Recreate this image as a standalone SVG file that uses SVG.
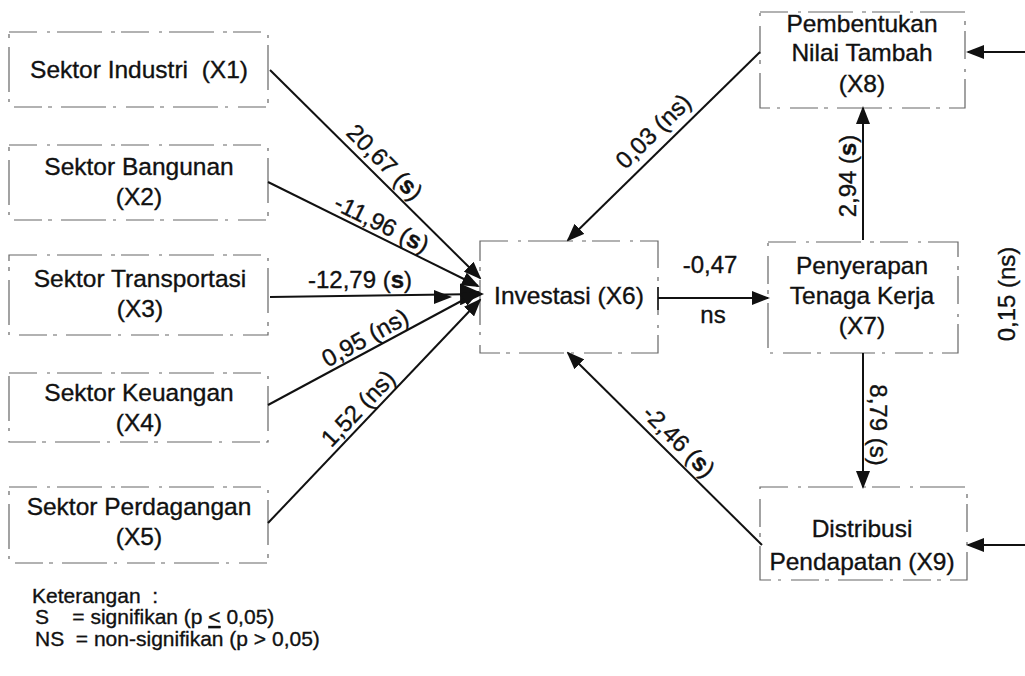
<svg xmlns="http://www.w3.org/2000/svg" width="1025" height="676" viewBox="0 0 1025 676">
<defs>
<style>
text{font-family:"Liberation Sans",Arial,sans-serif;fill:#111;stroke:#111;stroke-width:0.35}
.n{font-size:24.5px;text-anchor:middle}
.l{font-size:24px;text-anchor:middle}
.k{font-size:21px}
.box{fill:none;stroke:#666;stroke-width:1.2;stroke-dasharray:28 10 3 7 45 9 4 6}
.c{stroke:#111;stroke-width:2;fill:none;marker-end:url(#ah)}
</style>
<marker id="ah" markerWidth="18" markerHeight="14" refX="16" refY="7" orient="auto" markerUnits="userSpaceOnUse">
<path d="M0,0 L18,7 L0,14 Z" fill="#111"/>
</marker>
<marker id="ahb" markerWidth="24" markerHeight="22" refX="22" refY="11" orient="auto" markerUnits="userSpaceOnUse">
<path d="M0,0 L24,11 L0,22 Z" fill="#111"/>
</marker>
</defs>
<rect width="1025" height="676" fill="#fff"/>

<g id="x1"><rect class="box" x="9" y="32" width="259" height="75"/><text class="n" x="139" y="78" xml:space="preserve">Sektor Industri  (X1)</text></g>
<g id="x2"><rect class="box" x="9" y="145" width="259" height="75"/><text class="n" x="139" y="175">Sektor Bangunan</text><text class="n" x="139" y="205">(X2)</text></g>
<g id="x3"><rect class="box" x="9" y="255" width="259" height="80"/><text class="n" x="140" y="287">Sektor Transportasi</text><text class="n" x="140" y="317">(X3)</text></g>
<g id="x4"><rect class="box" x="9" y="373" width="259" height="69"/><text class="n" x="139" y="401">Sektor Keuangan</text><text class="n" x="139" y="431">(X4)</text></g>
<g id="x5"><rect class="box" x="9" y="487" width="259" height="76"/><text class="n" x="139" y="515">Sektor Perdagangan</text><text class="n" x="139" y="545">(X5)</text></g>
<g id="x6"><rect class="box" x="480" y="241" width="178" height="112"/><text class="n" x="569" y="304">Investasi (X6)</text></g>
<g id="x7"><rect class="box" x="768" y="242" width="190" height="111"/><text class="n" x="862" y="274">Penyerapan</text><text class="n" x="862" y="304">Tenaga Kerja</text><text class="n" x="862" y="334">(X7)</text></g>
<g id="x8"><rect class="box" x="760" y="12" width="205" height="96"/><text class="n" x="862" y="32">Pembentukan</text><text class="n" x="862" y="61">Nilai Tambah</text><text class="n" x="862" y="92">(X8)</text></g>
<g id="x9"><rect class="box" x="760" y="487" width="207" height="93"/><text class="n" x="862" y="537">Distribusi</text><text class="n" x="862" y="570">Pendapatan (X9)</text></g>

<g id="connectors">
<line class="c" x1="270" y1="70" x2="480" y2="278"/>
<line class="c" x1="268" y1="182" x2="478" y2="286"/>
<line class="c" x1="270" y1="297" x2="482" y2="294" style="marker-end:url(#ahb)"/>
<path d="M428,297 L450,297" stroke="none" marker-end="url(#ah)"/>
<line class="c" x1="268" y1="405" x2="478" y2="292"/>
<line class="c" x1="268" y1="523" x2="480" y2="300"/>
<line class="c" x1="760" y1="52" x2="568" y2="240"/>
<line class="c" x1="762" y1="545" x2="568" y2="353"/>
<line class="c" x1="658" y1="298" x2="768" y2="298"/>
<line x1="658" y1="287" x2="658" y2="310" stroke="#111" stroke-width="1.5"/>
<line class="c" x1="863" y1="240" x2="863" y2="108"/>
<line class="c" x1="863" y1="353" x2="863" y2="487"/>
<line class="c" x1="1025" y1="52" x2="968" y2="52"/>
<line class="c" x1="1025" y1="545" x2="968" y2="545"/>

<text class="l" transform="translate(379,168) rotate(45)">20,67 (<tspan font-weight="bold">s</tspan>)</text>
<text class="l" transform="translate(378,231) rotate(26.3)">-11,96 (<tspan font-weight="bold">s</tspan>)</text>
<text class="l" x="360" y="288">-12,79 (<tspan font-weight="bold">s</tspan>)</text>
<text class="l" transform="translate(369,345) rotate(-28.7)">0,95 (ns)</text>
<text class="l" transform="translate(364,414) rotate(-46.4)">1,52 (ns)</text>
<text class="l" transform="translate(659,137) rotate(-44.4)">0,03 (ns)</text>
<text class="l" transform="translate(673,447) rotate(45)">-2,46 (<tspan font-weight="bold">s</tspan>)</text>
<text class="l" x="710" y="273">-0,47</text>
<text class="l" x="713" y="323">ns</text>
<text class="l" transform="translate(856,176) rotate(-90)">2,94 (<tspan font-weight="bold">s</tspan>)</text>
<text class="l" transform="translate(870,425) rotate(90)">8,79 (s)</text>
<text class="l" transform="translate(1015,294) rotate(-90)">0,15 (ns)</text>
</g>

<g id="legend">
<text class="k" x="32" y="603" xml:space="preserve">Keterangan  :</text>
<text class="k" x="35" y="624" xml:space="preserve">S    = signifikan (p <tspan text-decoration="underline">&lt;</tspan> 0,05)</text>
<text class="k" x="35" y="646" xml:space="preserve">NS  = non-signifikan (p &gt; 0,05)</text>
</g>
</svg>
